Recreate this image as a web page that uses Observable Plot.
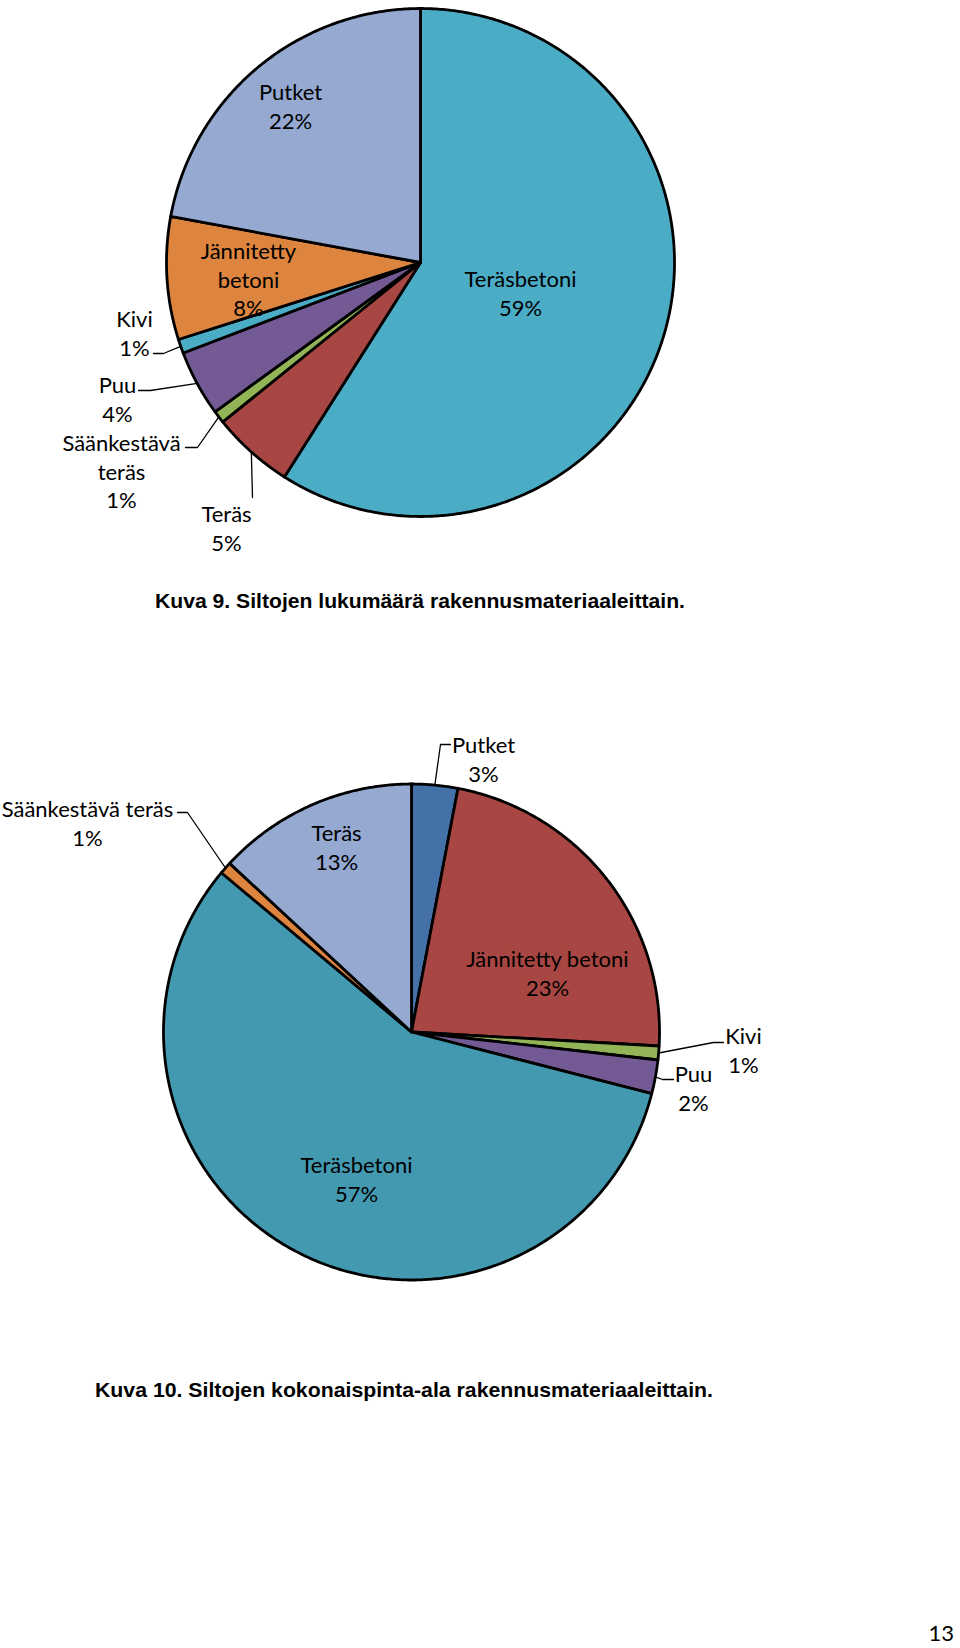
<!DOCTYPE html>
<html>
<head>
<meta charset="utf-8">
<script src="https://cdn.jsdelivr.net/npm/d3@7"></script>
<script src="https://cdn.jsdelivr.net/npm/@observablehq/plot@0.6"></script>
<style>
  body { margin: 0; background: #fff; }
  #page { position: relative; width: 960px; height: 1648px; overflow: hidden; background: #fff; }
  .chart { position: absolute; left: 0; }
  .caption { position: absolute; white-space: nowrap; font-family: "Liberation Sans", Arial, sans-serif; font-weight: bold; font-size: 21px; color: #000; transform-origin: 0 50%; line-height: 1; }
  .pageno { position: absolute; font-family: Lato, "Open Sans", sans-serif; font-size: 22px; color: #000; line-height: 1.1; }
</style>
</head>
<body>
<div id="page"></div>
<script>
// ---------- Data: Kuva 9 (number of bridges) ----------
const materials1 = ["Teräsbetoni", "Teräs", "Säänkestävä teräs", "Puu", "Kivi", "Jännitetty betoni", "Putket"];
const shares1 = [59.0, 5.2, 0.8, 4.2, 0.9, 7.8, 22.1];
const labelNames1 = ["Teräsbetoni", "Teräs", "Säänkestävä\nteräs", "Puu", "Kivi", "Jännitetty\nbetoni", "Putket"];
const colors1 = ["#4BACC6", "#A84643", "#93B456", "#735A95", "#4BACC6", "#DD843E", "#95A9D1"];

// ---------- Data: Kuva 10 (total deck area) ----------
const materials2 = ["Putket", "Jännitetty betoni", "Kivi", "Puu", "Teräsbetoni", "Säänkestävä teräs", "Teräs"];
const shares2 = [3.0, 22.9, 0.9, 2.2, 57.1, 0.8, 13.1];
const labelNames2 = ["Putket", "Jännitetty betoni", "Kivi", "Puu", "Teräsbetoni", "Säänkestävä teräs", "Teräs"];
const colors2 = ["#4472A8", "#A84643", "#93B456", "#735A95", "#4299B0", "#DD843E", "#95A9D1"];

// ---------- Captions ----------
const caption1 = "Kuva 9. Siltojen lukumäärä rakennusmateriaaleittain.";
const caption2 = "Kuva 10. Siltojen kokonaispinta-ala rakennusmateriaaleittain.";
const pageNumber = "13";

// ---------- Layout (pixels) ----------
const layout1 = { top: 0, height: 570, cx: 420, cy: 262, r: 254 };
const layout2 = { top: 700, height: 610, cx: 411, cy: 331.5, r: 248 };
// label block centres (page coordinates) and optional leader line elbow/end
const labelLayout1 = [
  { x: 520, y: 292 },
  { x: 226, y: 527, leader: [[252, 497]] },
  { x: 121, y: 470, leader: [[197, 447], [185, 447]] },
  { x: 117, y: 398, leader: [[150, 390], [138, 390]] },
  { x: 134, y: 332, leader: [[163, 353], [153, 353]] },
  { x: 248, y: 278 },
  { x: 290, y: 105 }
];
const labelLayout2 = [
  { x: 483, y: 758, leader: [[440, 744], [450, 744]] },
  { x: 547, y: 972 },
  { x: 743, y: 1049, leader: [[713, 1042], [723, 1042]] },
  { x: 693, y: 1087, leader: [[662, 1079], [673, 1079]] },
  { x: 356, y: 1178 },
  { x: 87, y: 822, leader: [[187, 812], [177, 812]] },
  { x: 336, y: 846 }
];

function pieChart(materials, shares, names, colors, L, labels) {
  const arcs = d3.pie().sort(null).value(d => d)(shares);
  const slices = [];
  arcs.forEach((p, i) => {
    const n = Math.max(2, Math.ceil((p.endAngle - p.startAngle) / (Math.PI / 360)));
    slices.push({ key: materials[i] + i, x: L.cx, y: L.cy, fill: colors[i] });
    for (let k = 0; k <= n; k++) {
      const a = p.startAngle + (p.endAngle - p.startAngle) * k / n;
      slices.push({ key: materials[i] + i, x: L.cx + L.r * Math.sin(a), y: L.cy - L.r * Math.cos(a), fill: colors[i] });
    }
    slices.push({ key: materials[i] + i, x: L.cx, y: L.cy, fill: colors[i] });
  });
  const texts = arcs.map((p, i) => ({
    text: names[i] + "\n" + Math.round(shares[i]) + "%",
    x: labels[i].x, y: labels[i].y - L.top
  }));
  const leaders = [];
  arcs.forEach((p, i) => {
    if (!labels[i].leader) return;
    const a = (p.startAngle + p.endAngle) / 2;
    leaders.push({ key: i, x: L.cx + L.r * Math.sin(a), y: L.cy - L.r * Math.cos(a) });
    labels[i].leader.forEach(([x, y]) => leaders.push({ key: i, x, y: y - L.top }));
  });
  return Plot.plot({
    width: 960, height: L.height,
    margin: 0,
    x: { domain: [0, 960], range: [0, 960], axis: null },
    y: { domain: [0, L.height], range: [0, L.height], axis: null },
    style: { background: "transparent", fontFamily: "Lato, 'Open Sans', sans-serif" },
    marks: [
      Plot.line(slices, { x: "x", y: "y", z: "key", fill: "fill", stroke: "#000", strokeWidth: 2.8, strokeLinejoin: "round", strokeLinecap: "round", curve: "linear" }),
      Plot.line(leaders, { x: "x", y: "y", z: "key", stroke: "#000", strokeWidth: 1.3, curve: "linear" }),
      Plot.text(texts, { x: "x", y: "y", text: "text", fontSize: 22, lineHeight: 1.29, fill: "#000", textAnchor: "middle", lineAnchor: "middle" })
    ]
  });
}

const page = document.getElementById("page");
[[materials1, shares1, labelNames1, colors1, layout1, labelLayout1],
 [materials2, shares2, labelNames2, colors2, layout2, labelLayout2]].forEach(args => {
  const svg = pieChart(...args);
  svg.classList.add("chart");
  svg.style.top = args[4].top + "px";
  page.appendChild(svg);
});

function addCaption(text, left, centerY, targetWidth) {
  const d = document.createElement("div");
  d.className = "caption";
  d.textContent = text;
  page.appendChild(d);
  const w = d.getBoundingClientRect().width;
  const h = d.getBoundingClientRect().height;
  d.style.left = left + "px";
  d.style.top = (centerY - h / 2) + "px";
  d.style.transform = `scaleX(${targetWidth / w})`;
}
addCaption(caption1, 155, 600, 530);
addCaption(caption2, 95, 1389, 618);

const pn = document.createElement("div");
pn.className = "pageno";
pn.textContent = pageNumber;
page.appendChild(pn);
pn.style.left = (954 - pn.getBoundingClientRect().width) + "px";
pn.style.top = (1633 - pn.getBoundingClientRect().height / 2) + "px";
</script>
</body>
</html>
